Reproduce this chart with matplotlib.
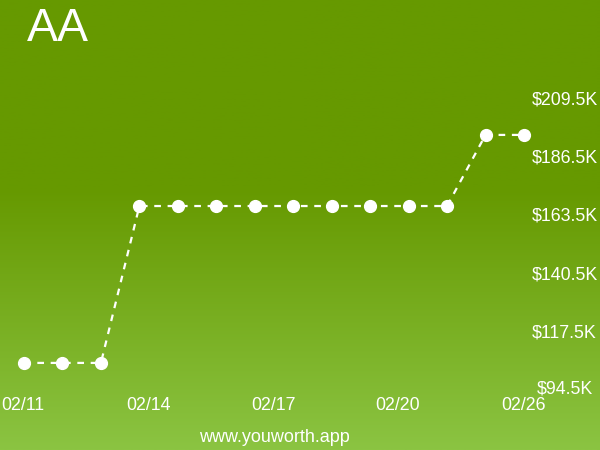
import numpy as np
import matplotlib
matplotlib.use("Agg")
import matplotlib.pyplot as plt
from matplotlib.colors import LinearSegmentedColormap

# ---- data ----
title = "AA"
values = [105.6, 105.6, 105.6,
          167.6, 167.6, 167.6, 167.6, 167.6, 167.6, 167.6, 167.6, 167.6,
          195.7, 195.7]
xtick_labels = ["02/11", "02/14", "02/17", "02/20", "02/26"]
ytick_values = [209.5, 186.5, 163.5, 140.5, 117.5, 94.5]
ytick_labels = ["$209.5K", "$186.5K", "$163.5K", "$140.5K", "$117.5K", "$94.5K"]
footer = "www.youworth.app"

plt.rcParams['font.family'] = ['Liberation Sans', 'DejaVu Sans']

W, H = 600, 450
fig = plt.figure(figsize=(6, 4.5), dpi=100)
ax = fig.add_axes([0, 0, 1, 1])

n = len(values)
pxu = 500 / (n - 1)
x0 = -24 / pxu
x1 = (n - 1) + (W - 524) / pxu
pyk = (391 - 100) / (209.5 - 94.5)
y0 = 94.5 - (H - 391) / pyk
y1 = 209.5 + 100 / pyk
ax.set_xlim(x0, x1)
ax.set_ylim(y0, y1)
ax.axis('off')

# background gradient (top dark, bottom light)
cmap = LinearSegmentedColormap.from_list(
    'g', [(0, '#669900'), (0.42, '#669900'), (1.0, '#8bc442')])
grad = np.linspace(0, 1, 256).reshape(-1, 1)
ax.imshow(grad, cmap=cmap, aspect='auto', extent=[x0, x1, y0, y1],
          origin='upper', zorder=0)
ax.set_xlim(x0, x1)
ax.set_ylim(y0, y1)

xs = np.arange(n)
ax.plot(xs, values, color='white', lw=1.6, ls=(0, (3, 3)), zorder=2)
ax.plot(xs, values, 'o', color='white', ms=8.5, mec='white', zorder=3)

# y labels
for v, lab in zip(ytick_values, ytick_labels):
    xoff = (532 - 24) / pxu if lab != "$94.5K" else (537 - 24) / pxu
    yv = v if lab != "$94.5K" else v + 2 / pyk
    ax.text(xoff, yv, lab, color='white', fontsize=12.8, ha='left', va='center', zorder=4)

# x labels
xt = np.linspace(0, n - 1, len(xtick_labels))
ylab = 94.5 - (405 - 391) / pyk
for xv, lab in zip(xt, xtick_labels):
    ax.text(xv - 1 / pxu, ylab, lab, color='white', fontsize=12.8, ha='center', va='center', zorder=4)

fig.text(27 / W, 1 - 41 / H, title, color='white', fontsize=33.5, ha='left', va='baseline')
fig.text(274 / W, 1 - 437 / H, footer, color='white', fontsize=13, ha='center', va='center')

fig.savefig('out.png', dpi=100)
